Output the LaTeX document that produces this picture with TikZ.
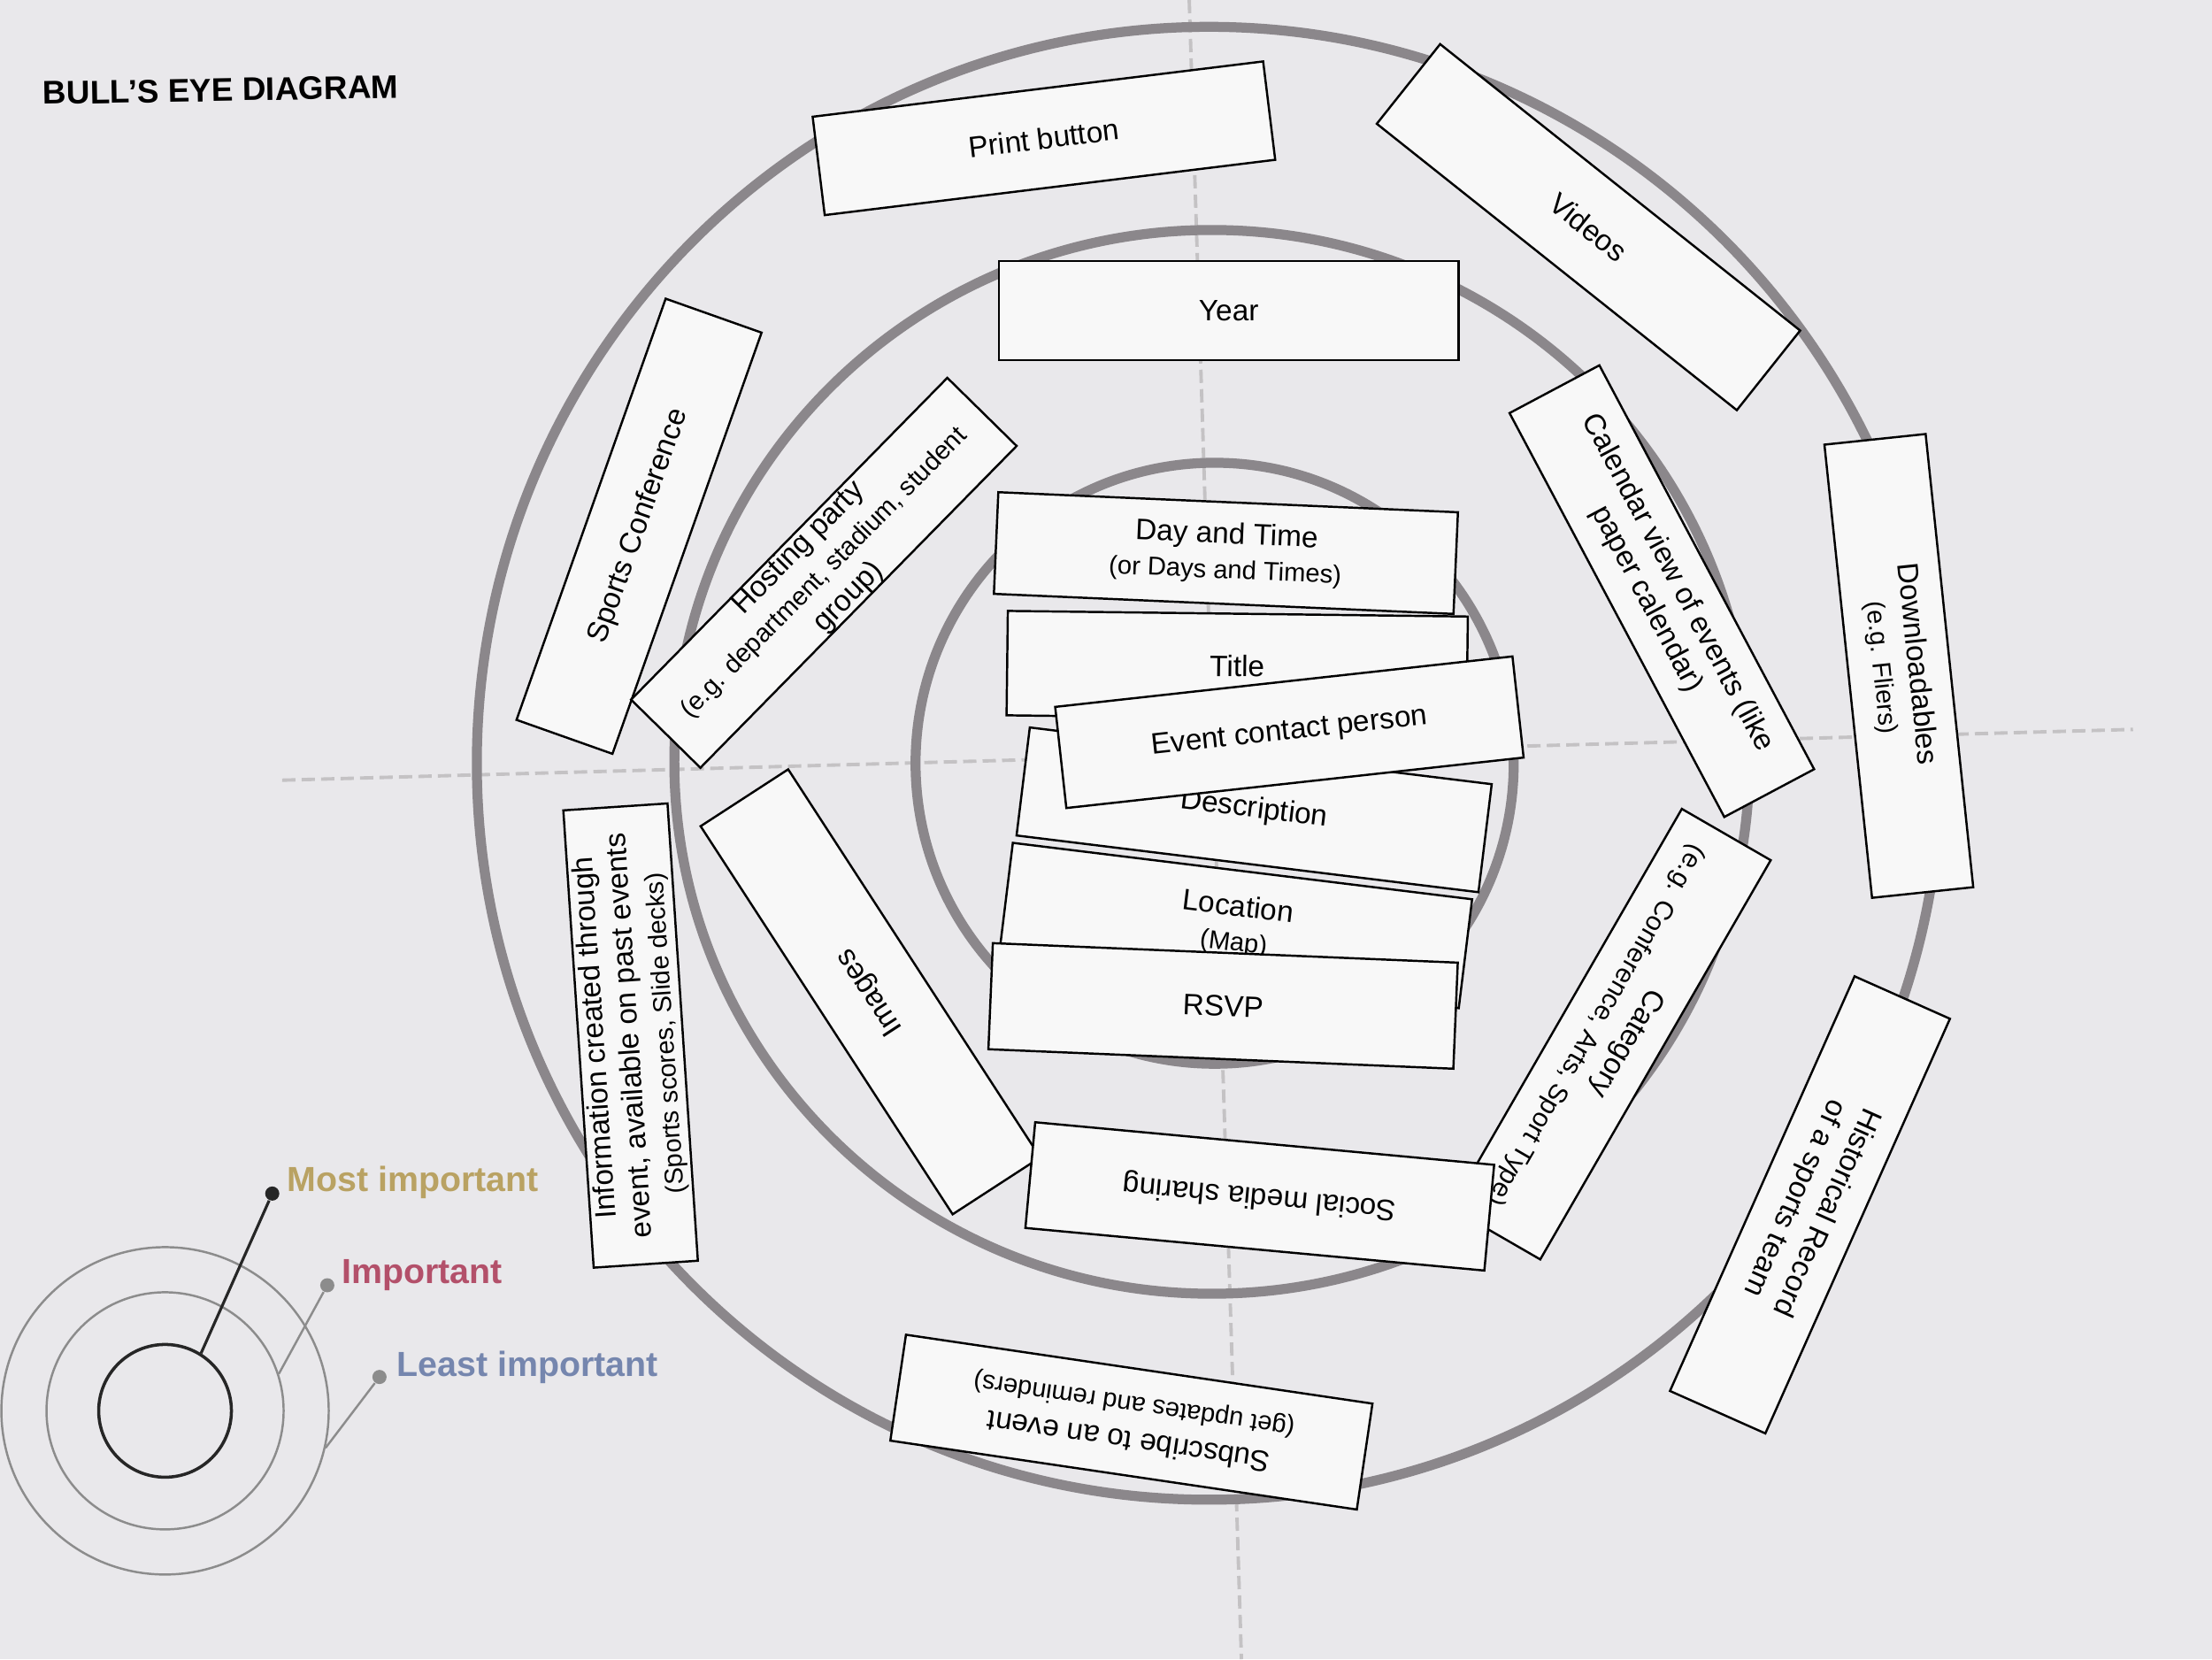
\documentclass[tikz,border=0pt]{standalone}
\usepackage{fontspec}
\setmainfont{Liberation Sans}
\usepackage{xcolor}

\definecolor{paper}{HTML}{E9E8EB}
\definecolor{slipwhite}{HTML}{F8F8F8}
\definecolor{ringgray}{HTML}{8B878B}
\definecolor{guidegray}{HTML}{C4C2C4}
\definecolor{mostcol}{HTML}{B9A263}
\definecolor{impcol}{HTML}{B3506A}
\definecolor{leastcol}{HTML}{7586AE}

\newcommand{\slipsub}{\fontsize{8.3}{9.8}\selectfont}

\begin{document}
\begin{tikzpicture}[
    x=0.015944cm, y=-0.015944cm,
    slip/.style={rectangle, draw=black, line width=0.7pt, fill=slipwhite,
                 minimum width=5.2cm, minimum height=1.15cm, inner sep=0pt,
                 align=center, font=\fontsize{9.5}{11.2}\selectfont},
    ring/.style={draw=ringgray, line width=3.2pt},
    guide/.style={draw=guidegray, line width=1.1pt, dash pattern=on 0.15cm off 0.07cm},
    legring/.style={circle, draw=gray!90, line width=0.7pt, inner sep=0pt},
    legdot/.style={circle, fill=gray!90, inner sep=0pt, minimum size=0.16cm},
    legtext/.style={anchor=west, inner sep=0pt, font=\fontsize{11.2}{12}\bfseries\selectfont}
]

% --- Sheet ---
\fill[paper] (0,0) rectangle (1568,1176);
\useasboundingbox (0,0) rectangle (1568,1176);

\node[anchor=west, rotate=1, inner sep=0pt, font=\fontsize{10.5}{12}\bfseries\selectfont]
    (heading) at (30,66) {BULL’S EYE DIAGRAM};

% --- Guides and rings ---
\draw[guide] (843,0) -- (880,1176);
\draw[guide] (200,553) -- (1512,517);

\draw[ring] (857,541) ellipse [x radius=519, y radius=522]; % least important
\draw[ring] (859,540) ellipse [x radius=381, y radius=377]; % important
\draw[ring] (861,541) ellipse [x radius=212, y radius=213]; % most important

% --- Outer ring slips ---
\node[slip, rotate=7, minimum width=5.13cm, minimum height=1.12cm] (print) at (740,98) {Print button};
\node[slip, rotate=-38.5] (videos) at (1126,161) {Videos};
\node[slip, rotate=70.5, minimum width=5.05cm] (sports) at (453,373) {Sports Conference};

% --- Middle ring slips ---
\node[slip, minimum height=1.12cm] (year) at (871,220) {Year};
\node[slip, rotate=45.5, minimum width=5.1cm, minimum height=1.07cm] (hosting) at (584,406)
    {Hosting party\\\slipsub (e.g. department, stadium, student\\group)};

% --- Inner ring slips ---
\node[slip, rotate=-2.5] (daytime) at (869,392) {Day and Time\\\slipsub (or Days and Times)};
\node[slip, rotate=-0.7, minimum height=1.18cm] (title) at (877,472) {Title};
\node[slip, rotate=-7, minimum width=5.26cm, minimum height=1.23cm] (descr) at (889,574) {Description};
\node[slip, rotate=-7, minimum width=5.23cm, minimum height=1.24cm] (location) at (876,656) {Location\\\slipsub (Map)};
\node[slip, rotate=-2.4, minimum width=5.26cm, minimum height=1.2cm] (rsvp) at (867,713) {RSVP};
\node[slip, rotate=6.3] (contact) at (914,519) {Event contact person};

% --- Right side ---
\node[slip, rotate=-62, minimum width=5.17cm] (calendar) at (1178,419)
    {Calendar view of events (like\\paper calendar)};
\node[slip, rotate=-84, minimum width=5.15cm] (download) at (1346,472)
    {Downloadables\\\slipsub (e.g. Fliers)};

% --- Left side ---
\node[slip, rotate=93.8, minimum width=5.18cm, minimum height=1.18cm] (info) at (447,734)
    {Information created through\\event, available on past events\\\slipsub (Sports scores, Slide decks)};
\node[slip, rotate=123, minimum width=5.23cm, minimum height=1.18cm] (images) at (617,703) {Images};

% --- Bottom ---
\node[slip, rotate=-120, minimum width=5.21cm, minimum height=1.16cm] (category) at (1142,733)
    {Category\\\fontsize{8.5}{10}\selectfont (e.g. Conference, Arts, Sport Type)};
\node[slip, rotate=174.7, minimum width=5.21cm, minimum height=1.2cm] (social) at (893,848) {Social media sharing};
\node[slip, rotate=-114, minimum width=5.13cm, minimum height=1.18cm] (historical) at (1283,854)
    {Historical Record\\of a sports team};
\node[slip, rotate=171.6, minimum width=5.33cm, minimum height=1.21cm] (subscribe) at (802,1008)
    {Subscribe to an event\\\slipsub (get updates and reminders)};

% --- Legend ---
\node[legring, minimum size=3.7cm] (legouter) at (117,1000) {};
\node[legring, minimum size=2.68cm] (legmid) at (117,1000) {};
\node[legring, draw=black!85, line width=1pt, minimum size=1.5cm] (leginner) at (117,1000) {};

\node[legdot, fill=black!85] (dotmost) at (193,846) {};
\node[legdot] (dotimp) at (232,911) {};
\node[legdot] (dotleast) at (269,976) {};

\draw[black!85, line width=0.9pt] (leginner.58) -- (dotmost);
\draw[gray!90, line width=0.7pt] (legmid.18) -- (dotimp);
\draw[gray!90, line width=0.7pt] (legouter.-13) -- (dotleast);

\node[legtext, text=mostcol] (lblmost) at (203,838) {Most important};
\node[legtext, text=impcol] (lblimp) at (242,904) {Important};
\node[legtext, text=leastcol] (lblleast) at (281,969) {Least important};

\end{tikzpicture}
\end{document}
